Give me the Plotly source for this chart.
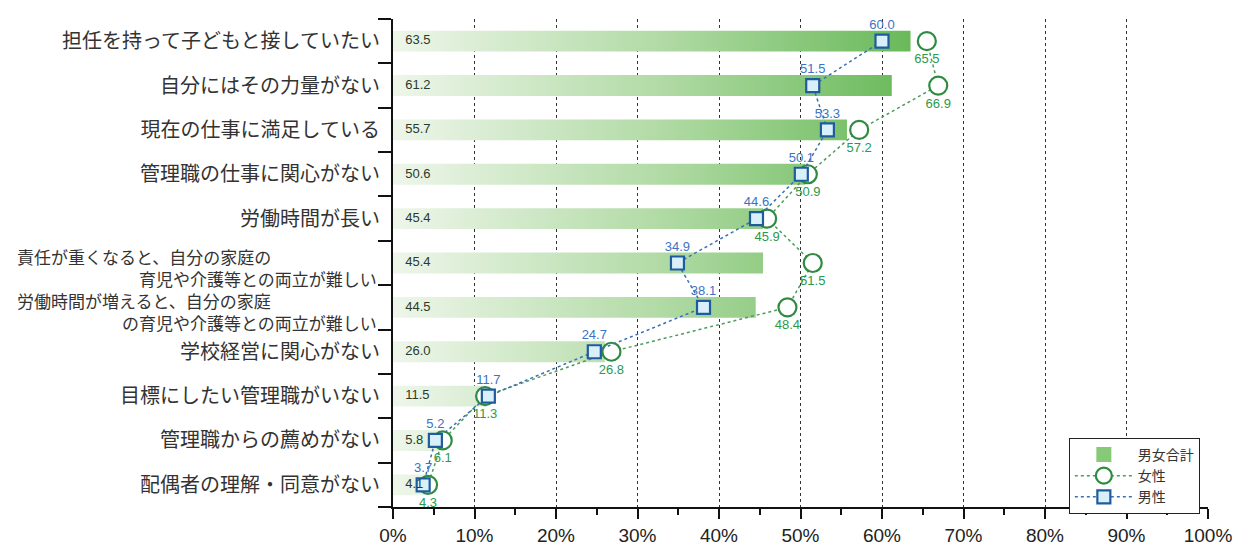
import plotly.graph_objects as go

categories = [
    "担任を持って子どもと接していたい",
    "自分にはその力量がない",
    "現在の仕事に満足している",
    "管理職の仕事に関心がない",
    "労働時間が長い",
    "責任が重くなると、自分の家庭の<br>育児や介護等との両立が難しい",
    "労働時間が増えると、自分の家庭<br>の育児や介護等との両立が難しい",
    "学校経営に関心がない",
    "目標にしたい管理職がいない",
    "管理職からの薦めがない",
    "配偶者の理解・同意がない",
]
total = [63.5, 61.2, 55.7, 50.6, 45.4, 45.4, 44.5, 26.0, 11.5, 5.8, 4.1]
female = [65.5, 66.9, 57.2, 50.9, 45.9, 51.5, 48.4, 26.8, 11.3, 6.1, 4.3]
male = [60.0, 51.5, 53.3, 50.1, 44.6, 34.9, 38.1, 24.7, 11.7, 5.2, 3.7]
x_ticks = [0, 10, 20, 30, 40, 50, 60, 70, 80, 90, 100]
x_ticktext = [f"{t}%" for t in x_ticks]

n = len(categories)
idx = list(range(n))
half = 0.235

CJK = "Noto Sans CJK JP"
NUM = "Liberation Sans, Arial, sans-serif"

# gradient bars as filled polygons
bx, by = [], []
for i, v in enumerate(total):
    bx += [0, v, v, 0, 0, None]
    by += [i - half, i - half, i + half, i + half, i - half, None]

fig = go.Figure()
fig.add_trace(go.Scatter(
    x=bx, y=by, mode="lines", fill="toself", line=dict(width=0, color="rgba(0,0,0,0)"),
    fillgradient=dict(type="horizontal", start=0, stop=66,
                      colorscale=[[0, "#eef6ea"], [0.5, "#b0daa4"], [1, "#62b652"]]),
    showlegend=False, hoverinfo="skip"))

# legend-only swatch for total
fig.add_trace(go.Scatter(
    x=[None], y=[None], mode="markers", name="男女合計",
    marker=dict(symbol="square", size=15, color="#86c977", line=dict(width=0))))

fig.add_trace(go.Scatter(
    x=female, y=idx, mode="lines+markers", name="女性",
    line=dict(color="#4c9c5c", width=1.5, dash="dot"),
    marker=dict(symbol="circle", size=18, color="white",
                line=dict(color="#2e8b40", width=2.2))))
fig.add_trace(go.Scatter(
    x=male, y=idx, mode="lines+markers", name="男性",
    line=dict(color="#3b6fb5", width=1.5, dash="dot"),
    marker=dict(symbol="square", size=13, color="#d9f0fb",
                line=dict(color="#1f5c9e", width=2.2))))

# value labels
fig.add_trace(go.Scatter(
    x=female, y=idx, mode="markers+text", text=[f"{v:.1f}" for v in female],
    textposition="bottom center", showlegend=False, hoverinfo="skip",
    marker=dict(size=18, opacity=0),
    textfont=dict(family=NUM, size=13, color="#2a9a4c")))
fig.add_trace(go.Scatter(
    x=male, y=idx, mode="markers+text", text=[f"{v:.1f}" for v in male],
    textposition="top center", showlegend=False, hoverinfo="skip",
    marker=dict(size=13, opacity=0),
    textfont=dict(family=NUM, size=13, color="#3b73c4")))
fig.add_trace(go.Scatter(
    x=[1.5] * n, y=idx, mode="text", text=[f"{v:.1f}" for v in total],
    textposition="middle right", showlegend=False, hoverinfo="skip",
    textfont=dict(family=NUM, size=13, color="#2b3a2b")))

# category labels
ticktext = [c if "<br>" not in c else "" for c in categories]
annotations = []
L = 393
W = 822
for i, c in enumerate(categories):
    if "<br>" in c:
        l1, l2 = c.split("<br>")
        annotations.append(dict(
            text=l1, xref="paper", yref="y", x=(12 - L) / W, y=i, yshift=7,
            xanchor="left", yanchor="middle", showarrow=False,
            font=dict(family=CJK, size=17, color="#333333")))
        annotations.append(dict(
            text=l2, xref="paper", yref="y", x=0, y=i, yshift=-15, xshift=-14,
            xanchor="right", yanchor="middle", showarrow=False,
            font=dict(family=CJK, size=17, color="#333333")))

fig.update_layout(
    width=1244, height=558,
    margin=dict(l=L, r=1244 - L - W, t=19, b=35),
    paper_bgcolor="white", plot_bgcolor="white",
    showlegend=True,
    legend=dict(x=0.99, xanchor="right", y=-0.014, yanchor="bottom",
                bordercolor="#222", borderwidth=1, bgcolor="white",
                font=dict(family=CJK, size=14, color="#333"),
                tracegroupgap=0, itemwidth=58),
    xaxis=dict(range=[0, 100], tickvals=x_ticks, ticktext=x_ticktext,
               showgrid=True, gridcolor="#333333", griddash="dot", gridwidth=1,
               zeroline=False, showline=True, linecolor="#111", linewidth=1.5,
               ticks="outside", ticklen=10, tickcolor="#111", tickwidth=1.5,
               minor=dict(dtick=5, ticks="outside", ticklen=6, tickcolor="#111",
                          tickwidth=1.5, showgrid=False),
               tickfont=dict(family=NUM, size=19, color="#222"), fixedrange=True),
    yaxis=dict(range=[n - 0.5, -0.5], tickvals=idx, ticktext=ticktext,
               showgrid=False, zeroline=False, showline=False, ticks="",
               ticklabelstandoff=12,
               tickfont=dict(family=CJK, size=20, color="#333333")),
    yaxis2=dict(range=[n - 0.5, -0.5], overlaying="y", side="left",
                tickvals=[i - 0.5 for i in range(n + 1)], showticklabels=False,
                showgrid=False, zeroline=False, showline=True, linecolor="#111",
                linewidth=1.5, ticks="outside", ticklen=13, tickcolor="#111",
                tickwidth=1.5),
    annotations=annotations,
)
# invisible trace to activate yaxis2
fig.add_trace(go.Scatter(x=[None], y=[None], yaxis="y2", showlegend=False,
                         hoverinfo="skip"))

fig.write_html("out.html")
